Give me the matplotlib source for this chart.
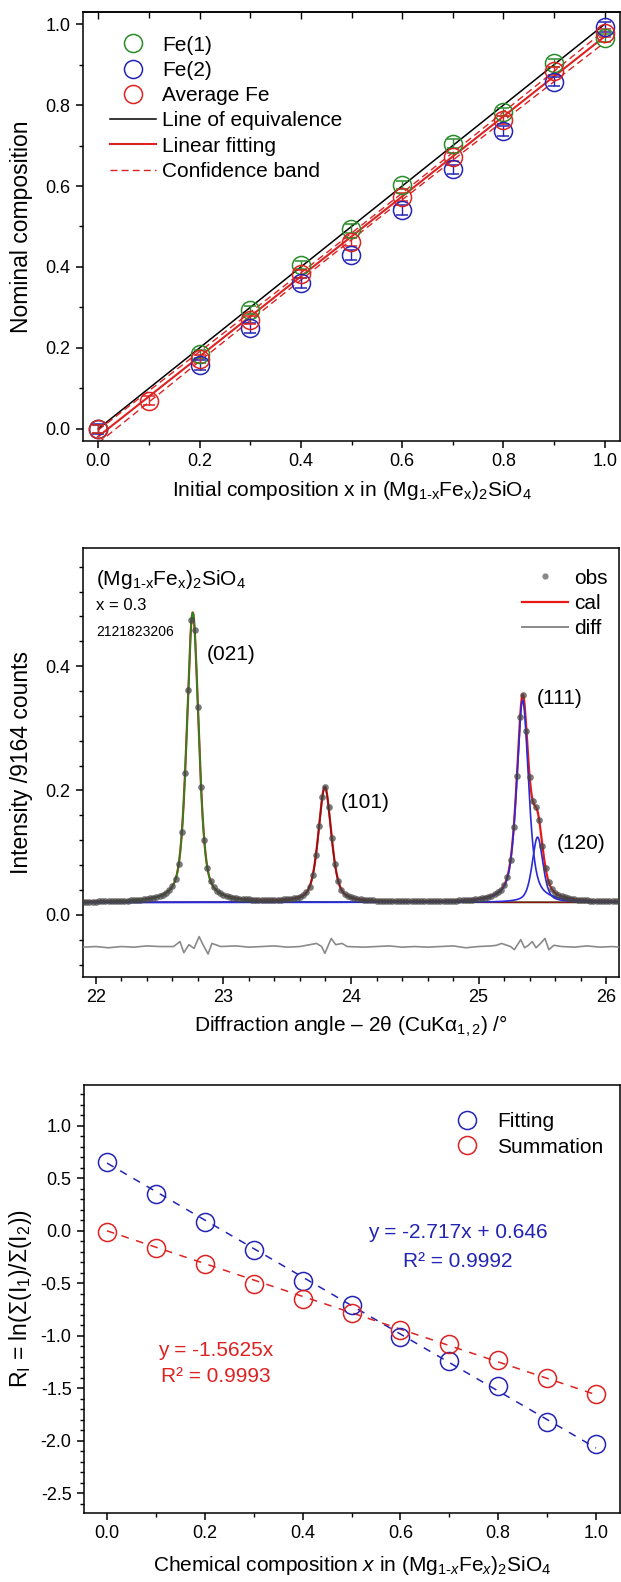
import numpy as np
import matplotlib
matplotlib.use('Agg')
import matplotlib.pyplot as plt
from matplotlib.ticker import MultipleLocator, FormatStrFormatter
from matplotlib.lines import Line2D

plt.rcParams['font.family'] = ['Liberation Sans', 'DejaVu Sans']
plt.rcParams['mathtext.fontset'] = 'custom'
plt.rcParams['mathtext.rm'] = 'Liberation Sans'
plt.rcParams['mathtext.it'] = 'Liberation Sans:italic'
plt.rcParams['mathtext.bf'] = 'Liberation Sans:bold'
plt.rcParams['axes.linewidth'] = 1.1

# ---------------- data: panel 1 ----------------
x_init = [0.0, 0.1, 0.2, 0.3, 0.4, 0.5, 0.6, 0.7, 0.8, 0.9, 1.0]
fe1 = [0.0, np.nan, 0.185, 0.294, 0.405, 0.495, 0.602, 0.705, 0.783, 0.904, 0.965]
fe2 = [0.0, np.nan, 0.157, 0.249, 0.360, 0.430, 0.541, 0.641, 0.736, 0.858, 0.993]
fe_avg = [0.0, 0.070, 0.172, 0.269, 0.382, 0.462, 0.574, 0.672, 0.763, 0.885, 0.977]
fe1_err = [0.010] * 11
fe2_err = [0.012] * 11
avg_err = [0.010] * 11
t_value = 2.05

# ---------------- data: panel 2 ----------------
peak_labels = ['(021)', '(101)', '(111)', '(120)']
peak_pos = [22.76, 23.795, 25.345, 25.462]
peak_height = [0.466, 0.185, 0.325, 0.105]
peak_fwhm = [0.11, 0.12, 0.11, 0.10]
peak_eta = [0.5, 0.5, 0.6, 0.5]
peak_colors = ['#1e8c1e', '#8b1414', '#2a2ad6', '#2a2ad6']
baseline = 0.02
label_x = [23.06, 24.115, 25.634, 25.805]
label_y = [0.418, 0.180, 0.348, 0.115]
diff_x = [21.9, 22.0, 22.1, 22.2, 22.3, 22.4, 22.5, 22.61, 22.66, 22.69, 22.73, 22.77,
          22.81, 22.84, 22.88, 22.91, 22.98, 23.1, 23.2, 23.3, 23.4, 23.5, 23.6, 23.73,
          23.77, 23.795, 23.845, 23.88, 23.93, 23.97, 24.1, 24.2, 24.3, 24.4, 24.5, 24.6,
          24.7, 24.8, 24.9, 25.0, 25.1, 25.14, 25.18, 25.25, 25.28, 25.33, 25.36, 25.39,
          25.42, 25.45, 25.49, 25.52, 25.55, 25.59, 25.65, 25.75, 25.85, 25.95, 26.05, 26.1]
diff_y = [-0.052, -0.051, -0.053, -0.051, -0.052, -0.050, -0.051, -0.051, -0.043, -0.061,
          -0.048, -0.054, -0.035, -0.048, -0.063, -0.046, -0.051, -0.050, -0.052, -0.051,
          -0.050, -0.052, -0.051, -0.046, -0.051, -0.062, -0.038, -0.048, -0.046, -0.051,
          -0.052, -0.051, -0.050, -0.052, -0.051, -0.052, -0.051, -0.050, -0.053, -0.051,
          -0.050, -0.049, -0.046, -0.051, -0.056, -0.040, -0.053, -0.049, -0.043, -0.053,
          -0.045, -0.038, -0.056, -0.049, -0.051, -0.052, -0.050, -0.052, -0.051, -0.052]

# ---------------- data: panel 3 ----------------
x_chem = [0.0, 0.1, 0.2, 0.3, 0.4, 0.5, 0.6, 0.7, 0.8, 0.9, 1.0]
r_fitting = [0.653, 0.347, 0.086, -0.184, -0.477, -0.709, -1.017, -1.243, -1.482, -1.822, -2.035]
r_summation = [-0.015, -0.162, -0.318, -0.511, -0.652, -0.779, -0.948, -1.075, -1.234, -1.403, -1.552]
fit_slope = [-2.717, -1.5625]
fit_intercept = [0.646, 0.0]

GREEN = '#2a8c2a'
BLUE = '#2424b4'
RED = '#dd2222'

fig = plt.figure(figsize=(6.21, 15.82), dpi=100)

TICK_FS = 13
XLAB_FS = 15
YLAB_FS = 16.5
LEG_FS = 15
TXT_FS = 15

def style_ticks(ax):
    ax.tick_params(which='major', direction='out', length=5, width=1.1, labelsize=TICK_FS, pad=4)
    ax.tick_params(which='minor', direction='out', length=3, width=1.0)

# ================= Panel 1 =================
ax1 = fig.add_axes([83/621, 1-441/1582, 537/621, 429/1582])
xa = np.array(x_init)
for y, e, c, lab in [(fe1, fe1_err, GREEN, 'Fe(1)'), (fe2, fe2_err, BLUE, 'Fe(2)'),
                     (fe_avg, avg_err, RED, 'Average Fe')]:
    ax1.errorbar(xa, y, yerr=e, fmt='o', ms=13, mfc='none', mec=c, mew=1.1,
                 ecolor=c, elinewidth=1.0, capsize=4, capthick=1.0, label=lab, zorder=3)
ax1.plot([0, 1], [0, 1], color='black', lw=1.1, label='Line of equivalence', zorder=2)
allx = np.concatenate([xa, xa, xa])
ally = np.concatenate([fe1, fe2, fe_avg])
m = ~np.isnan(ally)
allx, ally = allx[m], ally[m]
p = np.polyfit(allx, ally, 1)
xf = np.linspace(0, 1, 200)
yf = np.polyval(p, xf)
n = len(allx)
resid = ally - np.polyval(p, allx)
s = np.sqrt(np.sum(resid**2) / (n - 2))
sxx = np.sum((allx - allx.mean())**2)
band = t_value * s * np.sqrt(1/n + (xf - allx.mean())**2 / sxx)
ax1.plot(xf, yf, color=RED, lw=1.5, label='Linear fitting', zorder=2)
ax1.plot(xf, yf + band, color=RED, lw=1.0, ls=(0, (5, 3)), label='Confidence band', zorder=2)
ax1.plot(xf, yf - band, color=RED, lw=1.0, ls=(0, (5, 3)), zorder=2)
ax1.set_xlim(-0.03, 1.03)
ax1.set_ylim(-0.03, 1.03)
ax1.xaxis.set_major_locator(MultipleLocator(0.2))
ax1.xaxis.set_minor_locator(MultipleLocator(0.1))
ax1.yaxis.set_major_locator(MultipleLocator(0.2))
ax1.yaxis.set_minor_locator(MultipleLocator(0.1))
ax1.xaxis.set_major_formatter(FormatStrFormatter('%.1f'))
ax1.yaxis.set_major_formatter(FormatStrFormatter('%.1f'))
style_ticks(ax1)
sec = ax1.secondary_xaxis('top')
sec.xaxis.set_major_locator(MultipleLocator(0.2))
sec.xaxis.set_minor_locator(MultipleLocator(0.1))
sec.tick_params(which='both', direction='in', labeltop=False, width=1.0)
sec.tick_params(which='major', length=5)
sec.tick_params(which='minor', length=4)
ax1.set_ylabel('Nominal composition', fontsize=YLAB_FS, labelpad=9)
ax1.set_xlabel(r'Initial composition x in (Mg$_\mathregular{1‐x}$Fe$_\mathregular{x}$)$_\mathregular{2}$SiO$_\mathregular{4}$',
               fontsize=XLAB_FS, labelpad=6)
h, l = ax1.get_legend_handles_labels()
hd = dict(zip(l, h))
order = ['Fe(1)', 'Fe(2)', 'Average Fe', 'Line of equivalence', 'Linear fitting', 'Confidence band']
leg_handles = [Line2D([], [], ls='none', marker='o', ms=13, mfc='none', mec=GREEN, mew=1.1),
               Line2D([], [], ls='none', marker='o', ms=13, mfc='none', mec=BLUE, mew=1.1),
               Line2D([], [], ls='none', marker='o', ms=13, mfc='none', mec=RED, mew=1.1),
               hd['Line of equivalence'], hd['Linear fitting'], hd['Confidence band']]
ax1.legend(leg_handles, order, loc='upper left', bbox_to_anchor=(0.05, 0.945), frameon=False,
           fontsize=LEG_FS, handlelength=2.2, handletextpad=0.3, labelspacing=0.3,
           borderpad=0, borderaxespad=0)

# ================= Panel 2 =================
ax2 = fig.add_axes([83/621, 1-977/1582, 536/621, 429/1582])

def pvoigt(x, pos, h, fwhm, eta):
    d = (x - pos) / fwhm
    g = np.exp(-4*np.log(2)*d**2)
    lo = 1.0 / (1 + 4*d**2)
    return h * (eta*lo + (1-eta)*g)

peaks = list(zip(peak_pos, peak_height, peak_fwhm, peak_eta))
xx = np.linspace(21.9, 26.1, 2000)
cal_line = baseline + sum(pvoigt(xx, *pk) for pk in peaks)
ax2.plot(xx, cal_line, color='#e81818', lw=1.6, zorder=2)
for pk, c_ in zip(peaks, peak_colors):
    ax2.plot(xx, baseline + pvoigt(xx, *pk), color=c_, lw=1.2, zorder=3)
tt = np.arange(21.9, 26.1001, 0.025)
obs = baseline + sum(pvoigt(tt, *pk) for pk in peaks)
ax2.plot(tt, obs, ls='none', marker='o', ms=4.8, color='#454545', alpha=0.72, mew=0, zorder=4)
ax2.plot(diff_x, diff_y, color='#8a8a8a', lw=1.2, zorder=3)
for lab, lx, ly in zip(peak_labels, label_x, label_y):
    ax2.text(lx, ly, lab, fontsize=TXT_FS, ha='center', va='center')
ax2.text(22.0, 0.539, r'(Mg$_\mathregular{1‐x}$Fe$_\mathregular{x}$)$_\mathregular{2}$SiO$_\mathregular{4}$',
         fontsize=TXT_FS, ha='left', va='center')
ax2.text(22.0, 0.498, 'x = 0.3', fontsize=12, ha='left', va='center')
ax2.text(22.0, 0.455, '2121823206', fontsize=10, ha='left', va='center')
ax2.set_xlim(21.9, 26.1)
ax2.set_ylim(-0.1, 0.59)
ax2.xaxis.set_major_locator(MultipleLocator(1))
ax2.xaxis.set_minor_locator(MultipleLocator(0.2))
ax2.yaxis.set_major_locator(MultipleLocator(0.2))
ax2.yaxis.set_minor_locator(MultipleLocator(0.04))
ax2.yaxis.set_major_formatter(FormatStrFormatter('%.1f'))
style_ticks(ax2)
ax2.set_ylabel('Intensity /9164 counts', fontsize=YLAB_FS, labelpad=9)
ax2.set_xlabel(r'Diffraction angle – 2θ (CuKα$_\mathregular{1,2}$) /°', fontsize=XLAB_FS, labelpad=5)
leg2 = [Line2D([], [], ls='none', marker='o', ms=4.5, color='#888888', mew=0),
        Line2D([], [], color='#e81818', lw=1.6),
        Line2D([], [], color='#8a8a8a', lw=1.4)]
ax2.legend(leg2, ['obs', 'cal', 'diff'], loc='upper right', bbox_to_anchor=(0.978, 0.952),
           frameon=False, fontsize=LEG_FS, handlelength=2.25, handletextpad=0.25,
           labelspacing=0.3, borderpad=0, borderaxespad=0)

# ================= Panel 3 =================
ax3 = fig.add_axes([84/621, 1-1513/1582, 536/621, 428/1582])
xc = np.array(x_chem)
xl = np.array([0.0, 1.0])
ax3.plot(xl, fit_slope[0]*xl + fit_intercept[0], color=BLUE, lw=1.1, ls=(0, (5, 5)), zorder=2)
ax3.plot(xl, fit_slope[1]*xl + fit_intercept[1], color=RED, lw=1.1, ls=(0, (5, 5)), zorder=2)
ax3.plot(xc, r_fitting, ls='none', marker='o', ms=13, mfc='none', mec=BLUE, mew=1.1,
         label='Fitting', zorder=3)
ax3.plot(xc, r_summation, ls='none', marker='o', ms=13, mfc='none', mec=RED, mew=1.1,
         label='Summation', zorder=3)
ax3.text(0.717, -0.02, 'y = -2.717x + 0.646', color=BLUE, fontsize=TXT_FS, ha='center', va='center')
ax3.text(0.717, -0.29, 'R² = 0.9992', color=BLUE, fontsize=TXT_FS, ha='center', va='center')
ax3.text(0.223, -1.14, 'y = -1.5625x', color=RED, fontsize=TXT_FS, ha='center', va='center')
ax3.text(0.223, -1.387, 'R² = 0.9993', color=RED, fontsize=TXT_FS, ha='center', va='center')
ax3.set_xlim(-0.047, 1.049)
ax3.set_ylim(-2.69, 1.39)
ax3.xaxis.set_major_locator(MultipleLocator(0.2))
ax3.xaxis.set_minor_locator(MultipleLocator(0.1))
ax3.yaxis.set_major_locator(MultipleLocator(0.5))
ax3.yaxis.set_minor_locator(MultipleLocator(0.1))
ax3.xaxis.set_major_formatter(FormatStrFormatter('%.1f'))
ax3.yaxis.set_major_formatter(FormatStrFormatter('%.1f'))
style_ticks(ax3)
ax3.set_ylabel(r'R$_\mathregular{I}$ = ln(Σ(I$_\mathregular{1}$)/Σ(I$_\mathregular{2}$))', fontsize=YLAB_FS, labelpad=5)
ax3.set_xlabel(r'Chemical composition $\mathit{x}$ in (Mg$_{\mathregular{1‐}\mathit{x}}$Fe$_\mathit{x}$)$_\mathregular{2}$SiO$_\mathregular{4}$',
               fontsize=XLAB_FS, labelpad=8)
ax3.legend(loc='upper left', bbox_to_anchor=(0.684, 0.936), frameon=False, fontsize=LEG_FS,
           handlelength=1.6, handletextpad=0.65, labelspacing=0.3, borderpad=0, borderaxespad=0)

fig.savefig('out.png', dpi=100)
